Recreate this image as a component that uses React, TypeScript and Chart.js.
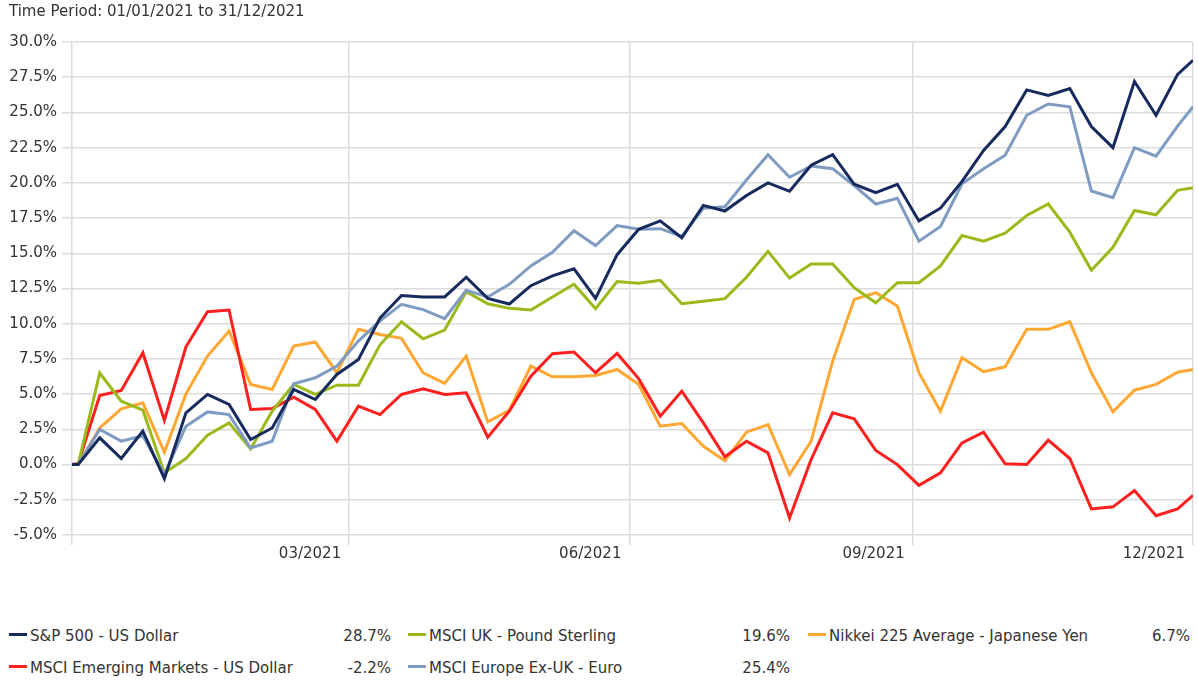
import React, { useEffect, useRef } from "react";
import { Chart, registerables } from "chart.js";

Chart.register(...registerables);

const FONT = '"DejaVu Sans", Verdana, sans-serif';
const TEXT = "#333333";
const GRID = "#dcdcdc";

// Observation dates (start, weekly Sundays, end)
const dates = [
  "2021-01-01",
  "2021-01-03", "2021-01-10", "2021-01-17", "2021-01-24", "2021-01-31",
  "2021-02-07", "2021-02-14", "2021-02-21", "2021-02-28",
  "2021-03-07", "2021-03-14", "2021-03-21", "2021-03-28",
  "2021-04-04", "2021-04-11", "2021-04-18", "2021-04-25",
  "2021-05-02", "2021-05-09", "2021-05-16", "2021-05-23", "2021-05-30",
  "2021-06-06", "2021-06-13", "2021-06-20", "2021-06-27",
  "2021-07-04", "2021-07-11", "2021-07-18", "2021-07-25",
  "2021-08-01", "2021-08-08", "2021-08-15", "2021-08-22", "2021-08-29",
  "2021-09-05", "2021-09-12", "2021-09-19", "2021-09-26",
  "2021-10-03", "2021-10-10", "2021-10-17", "2021-10-24", "2021-10-31",
  "2021-11-07", "2021-11-14", "2021-11-21", "2021-11-28",
  "2021-12-05", "2021-12-12", "2021-12-19", "2021-12-26",
  "2021-12-31",
];

const sp500 = [0, 0, 1.9, 0.43, 2.37, -1.0, 3.67, 4.98, 4.27, 1.78, 2.6, 5.33, 4.62, 6.4, 7.46, 10.4, 12.0, 11.9, 11.9, 13.3, 11.8, 11.4, 12.7, 13.4, 13.9, 11.8, 14.9, 16.7, 17.3, 16.1, 18.4, 18.0, 19.1, 20.0, 19.4, 21.25, 22.0, 19.9, 19.3, 19.9, 17.3, 18.2, 20.1, 22.3, 24.0, 26.6, 26.2, 26.7, 24.0, 22.5, 27.2, 24.8, 27.7, 28.7];
const msciUk = [0, 0, 6.5, 4.5, 3.86, -0.6, 0.43, 2.09, 2.96, 1.11, 3.79, 5.69, 4.98, 5.64, 5.64, 8.5, 10.14, 8.93, 9.55, 12.27, 11.42, 11.09, 10.97, 11.9, 12.8, 11.07, 12.99, 12.87, 13.08, 11.42, 11.6, 11.78, 13.3, 15.14, 13.24, 14.24, 14.24, 12.56, 11.49, 12.91, 12.91, 14.1, 16.26, 15.86, 16.43, 17.68, 18.5, 16.5, 13.8, 15.43, 18.04, 17.73, 19.47, 19.66];
const nikkei = [0, 0, 2.6, 3.96, 4.38, 0.88, 5.02, 7.7, 9.48, 5.69, 5.33, 8.41, 8.7, 6.52, 9.6, 9.24, 8.96, 6.52, 5.76, 7.7, 3.03, 3.86, 6.99, 6.23, 6.23, 6.33, 6.75, 5.7, 2.73, 2.91, 1.3, 0.28, 2.3, 2.84, -0.71, 1.66, 7.35, 11.73, 12.2, 11.26, 6.52, 3.79, 7.58, 6.59, 6.94, 9.6, 9.6, 10.14, 6.52, 3.74, 5.28, 5.69, 6.56, 6.75];
const msciEm = [0, 0.07, 4.9, 5.26, 7.94, 3.13, 8.36, 10.85, 10.97, 3.91, 3.98, 4.79, 3.91, 1.66, 4.15, 3.55, 4.98, 5.38, 4.98, 5.09, 1.94, 3.79, 6.28, 7.87, 7.99, 6.52, 7.89, 6.1, 3.44, 5.21, 2.96, 0.55, 1.66, 0.83, -3.79, 0.36, 3.67, 3.25, 1.0, 0.0, -1.47, -0.59, 1.54, 2.3, 0.05, 0.0, 1.73, 0.43, -3.15, -3.0, -1.85, -3.63, -3.15, -2.18];
const msciEurope = [0, 0, 2.49, 1.66, 2.05, -0.7, 2.72, 3.74, 3.55, 1.18, 1.66, 5.73, 6.16, 6.99, 8.77, 10.2, 11.37, 11.0, 10.36, 12.37, 11.9, 12.8, 14.1, 15.07, 16.6, 15.55, 16.97, 16.7, 16.75, 16.2, 18.2, 18.3, 20.2, 22.0, 20.4, 21.2, 21.0, 19.8, 18.5, 18.9, 15.86, 16.9, 19.94, 21.0, 21.96, 24.8, 25.6, 25.4, 19.42, 18.94, 22.5, 21.9, 24.03, 25.4];

// Series meta (legend order)
const seriesNames = [
  "S&P 500 - US Dollar",
  "MSCI UK - Pound Sterling",
  "Nikkei 225 Average - Japanese Yen",
  "MSCI Emerging Markets - US Dollar",
  "MSCI Europe Ex-UK - Euro",
];
const seriesFinal = ["28.7%", "19.6%", "6.7%", "-2.2%", "25.4%"];
const seriesColors = ["#172a5e", "#9aba1c", "#ffa733", "#ff1f1f", "#7f9bc2"];
const seriesValues = [sp500, msciUk, nikkei, msciEm, msciEurope];
// drawing order: first = on top
const drawOrder = [0, 4, 1, 3, 2];

// x-axis ticks
const tickDates = ["2021-01-01", "2021-04-01", "2021-07-01", "2021-10-01", "2021-12-31"];
const tickLabels = ["", "03/2021", "06/2021", "09/2021", "12/2021"];

const title = "Time Period: 01/01/2021 to 31/12/2021";

function dayOf(s: string): number {
  const [y, m, d] = s.split("-").map(Number);
  return Math.round((Date.UTC(y, m - 1, d) - Date.UTC(2021, 0, 1)) / 86400000);
}

export default function App() {
  const ref = useRef<HTMLCanvasElement | null>(null);

  useEffect(() => {
    if (!ref.current) return;
    const xs = dates.map(dayOf);
    const tickDays = tickDates.map(dayOf);
    const datasets = drawOrder.map((i, k) => ({
      label: seriesNames[i],
      data: seriesValues[i].map((v, j) => ({ x: xs[j], y: v })),
      borderColor: seriesColors[i],
      backgroundColor: seriesColors[i],
      borderWidth: 3,
      pointRadius: 0,
      tension: 0,
      fill: false,
      order: k,
    }));
    const font = { family: FONT, size: 15 };
    const chart = new Chart(ref.current, {
      type: "line",
      data: { datasets },
      options: {
        animation: false,
        responsive: false,
        maintainAspectRatio: false,
        layout: { padding: { left: 0, right: 5, top: 42, bottom: 0 } },
        plugins: {
          legend: { display: false },
          tooltip: { enabled: false },
        },
        scales: {
          x: {
            type: "linear",
            min: tickDays[0],
            max: tickDays[tickDays.length - 1],
            afterBuildTicks: (s: any) => {
              s.ticks = tickDays.map((v) => ({ value: v }));
            },
            afterFit: (s: any) => {
              s.height = 45;
            },
            grid: { color: GRID, lineWidth: 1.5, tickLength: 10, drawTicks: true },
            border: { display: false },
            ticks: {
              callback: (_v: any, i: number) => tickLabels[i],
              align: "end",
              labelOffset: -8,
              padding: 0,
              autoSkip: false,
              maxRotation: 0,
              color: TEXT,
              font,
            },
          },
          y: {
            min: -5,
            max: 30,
            afterFit: (s: any) => {
              s.width = 72;
            },
            grid: { color: GRID, lineWidth: 1.5, tickLength: 10 },
            border: { display: false },
            ticks: {
              stepSize: 2.5,
              callback: (v: any) => Number(v).toFixed(1) + "%",
              padding: 5,
              color: TEXT,
              font,
            },
          },
        },
      },
    } as any);
    return () => chart.destroy();
  }, []);

  const colLeft = [9, 408, 808];
  const rows = [
    [0, 1, 2],
    [3, 4],
  ];
  const rowTop = [627, 659];

  return (
    <div
      style={{
        position: "fixed",
        left: 0,
        top: 0,
        width: 1198,
        height: 680,
        background: "#fff",
        fontFamily: FONT,
        color: TEXT,
        fontSize: 15,
      }}
    >
      <canvas
        ref={ref}
        width={1198}
        height={580}
        style={{ position: "absolute", left: 0, top: 0, width: 1198, height: 580 }}
      />
      <div
        style={{
          position: "absolute",
          left: 9,
          top: 2,
          lineHeight: "18px",
          whiteSpace: "nowrap",
        }}
      >
        {title}
      </div>
      {rows.map((row, r) =>
        row.map((si, c) => (
          <div
            key={si}
            style={{
              position: "absolute",
              left: colLeft[c],
              top: rowTop[r],
              width: 382,
              height: 18,
              lineHeight: "18px",
              whiteSpace: "nowrap",
            }}
          >
            <div
              style={{
                position: "absolute",
                left: 0,
                top: 6,
                width: 18,
                height: 3,
                background: seriesColors[si],
              }}
            />
            <span style={{ position: "absolute", left: 21, top: 0 }}>{seriesNames[si]}</span>
            <span style={{ position: "absolute", right: 0, top: 0 }}>{seriesFinal[si]}</span>
          </div>
        ))
      )}
    </div>
  );
}
